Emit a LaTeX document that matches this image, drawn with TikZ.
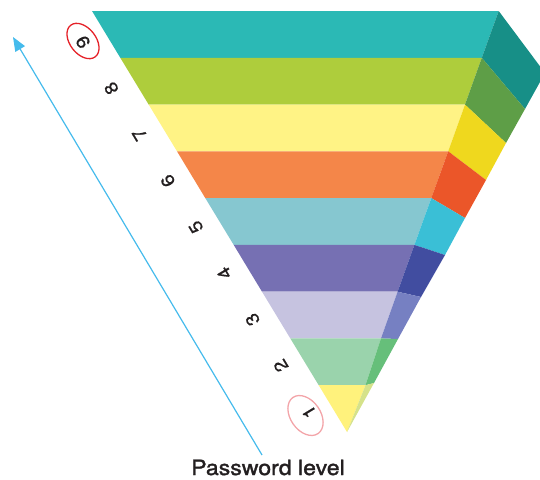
\documentclass[tikz,border=0pt]{standalone}
\usepackage{fontspec}
\usetikzlibrary{arrows.meta}
\newfontfamily\lvlfont[FakeStretch=1.12,FakeBold=0.8]{TeX Gyre Heros}
\newfontfamily\titlefont[FakeStretch=1.1,FakeBold=1.6]{TeX Gyre Heros}
\definecolor{ninef}{HTML}{2BB9B5}\definecolor{nines}{HTML}{178F87}
\definecolor{eightf}{HTML}{AECD3C}\definecolor{eights}{HTML}{5E9E47}
\definecolor{sevenf}{HTML}{FFF385}\definecolor{sevens}{HTML}{EFD81E}
\definecolor{sixf}{HTML}{F48649}\definecolor{sixs}{HTML}{EB5629}
\definecolor{fivef}{HTML}{86C7D0}\definecolor{fives}{HTML}{3ABFD6}
\definecolor{fourf}{HTML}{7670B3}\definecolor{fours}{HTML}{414DA0}
\definecolor{threef}{HTML}{C6C3E0}\definecolor{threes}{HTML}{7680C2}
\definecolor{twof}{HTML}{9AD3AC}\definecolor{twos}{HTML}{66BF7A}
\definecolor{onef}{HTML}{FFF27C}\definecolor{ones}{HTML}{D5E28A}
\definecolor{arrowblue}{HTML}{45BBEC}
\definecolor{ringred}{HTML}{E52229}
\definecolor{ringpink}{HTML}{F3A5A9}
\definecolor{textgray}{HTML}{231F20}
\tikzset{
	lvl/.style={font=\lvlfont\fontsize{18}{18}\selectfont,text=textgray,rotate=121,inner sep=0pt},
	ring/.style={ellipse,draw,line width=1.3pt,inner sep=0pt}
}
\usetikzlibrary{shapes.geometric}
\begin{document}
\begin{tikzpicture}[x=1pt,y=-1pt]
			\useasboundingbox(0,0) rectangle (540,479);
			\clip(0,0) rectangle (540,479);
			\coordinate(l0) at (92,11);
			\coordinate(l1) at (120.3,57.8);
			\coordinate(l2) at (148.7,104.6);
			\coordinate(l3) at (177,151.3);
			\coordinate(l4) at (205.3,198.1);
			\coordinate(l5) at (233.7,244.9);
			\coordinate(l6) at (262,291.7);
			\coordinate(l7) at (290.3,338.4);
			\coordinate(l8) at (318.7,385.2);
			\coordinate(r0) at (498.7,11);
			\coordinate(r1) at (481.8,57.8);
			\coordinate(r2) at (465,104.6);
			\coordinate(r3) at (448.2,151.3);
			\coordinate(r4) at (431.3,198.1);
			\coordinate(r5) at (414.4,244.9);
			\coordinate(r6) at (397.6,291.7);
			\coordinate(r7) at (381,338.4);
			\coordinate(r8) at (365.5,385.2);
			\coordinate(o0) at (545,73);
			\coordinate(o1) at (525,109);
			\coordinate(o2) at (506,143);
			\coordinate(o3) at (486,180);
			\coordinate(o4) at (465,218);
			\coordinate(o5) at (445,255);
			\coordinate(o6) at (421,297);
			\coordinate(o7) at (398,339);
			\coordinate(o8) at (374,383);
			\coordinate(p) at (347,432);
			\fill[ninef](l0)--(r0)--(r1)--(l1)--cycle;
			\fill[eightf](l1)--(r1)--(r2)--(l2)--cycle;
			\fill[sevenf](l2)--(r2)--(r3)--(l3)--cycle;
			\fill[sixf](l3)--(r3)--(r4)--(l4)--cycle;
			\fill[fivef](l4)--(r4)--(r5)--(l5)--cycle;
			\fill[fourf](l5)--(r5)--(r6)--(l6)--cycle;
			\fill[threef](l6)--(r6)--(r7)--(l7)--cycle;
			\fill[twof](l7)--(r7)--(r8)--(l8)--cycle;
			\fill[onef](l8)--(r8)--(p)--cycle;
			\fill[nines](r0)--(o0)--(o1)--(r1)--cycle;
			\fill[eights](r1)--(o1)--(o2)--(r2)--cycle;
			\fill[sevens](r2)--(o2)--(o3)--(r3)--cycle;
			\fill[sixs](r3)--(o3)--(o4)--(r4)--cycle;
			\fill[fives](r4)--(o4)--(o5)--(r5)--cycle;
			\fill[fours](r5)--(o5)--(o6)--(r6)--cycle;
			\fill[threes](r6)--(o6)--(o7)--(r7)--cycle;
			\fill[twos](r7)--(o7)--(o8)--(r8)--cycle;
			\fill[ones](r8)--(o8)--(p)--cycle;
			\node[lvl](n9) at (83,42){9};
			\node[lvl](n8) at (111.3,88.3){8};
			\node[lvl](n7) at (139.5,134.5){7};
			\node[lvl](n6) at (167.8,180.8){6};
			\node[lvl](n5) at (196,227){5};
			\node[lvl](n4) at (224.3,273.3){4};
			\node[lvl](n3) at (252.5,319.5){3};
			\node[lvl](n2) at (280.8,365.8){2};
			\node[lvl](n1) at (309,412){1};
			\node[ring,ringred,minimum width=40pt,minimum height=26pt,rotate=-52](c9) at (83,41){};
			\node[ring,ringpink,minimum width=44pt,minimum height=30pt,rotate=-55](c1) at (305.5,415.5){};
			\coordinate(s) at (262,455);
			\coordinate(e) at (13,37);
			\draw[arrowblue,line width=1.2pt,-{Triangle[length=14pt,width=11pt]}](s)--(e);
			\node[font=\titlefont\fontsize{21}{21}\selectfont,text=textgray,anchor=base](title) at (268,475){Password level};
		\end{tikzpicture}
\end{document}
